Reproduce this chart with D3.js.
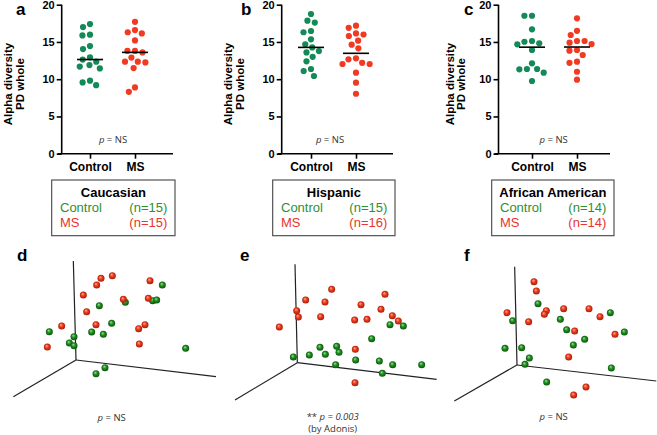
<!DOCTYPE html>
<html><head><meta charset="utf-8">
<script src="https://cdn.jsdelivr.net/npm/d3@7"></script>
<style>body{margin:0;background:#fff}svg{display:block}</style>
</head><body>
<svg id="c" width="657" height="435"></svg>
<script>
// ---------- DATA ----------
const groups = ["Control", "MS"];
const populations = ["Caucasian", "Hispanic", "African American"];
const panelLetters = ["a", "b", "c"];
const pcoaLetters = ["d", "e", "f"];
const yTicks = [0, 5, 10, 15, 20];
const nControl = [15, 15, 14];
const nMS = [15, 16, 14];
const pLabels = ["NS", "NS", "NS"];

// Alpha diversity (PD whole)
const caucControl = [17.4, 17.0, 15.97, 15.88, 14.45, 14.05, 12.93, 12.64, 12.35, 11.9, 11.7, 11.45, 9.8, 9.57, 9.2];
const caucMS      = [17.7, 16.6, 16.3, 16.15, 15.2, 13.8, 13.8, 13.6, 12.9, 12.35, 12.35, 12.25, 11.5, 8.9, 8.3];
const hispControl = [18.75, 17.85, 17.6, 16.47, 16.3, 15.35, 14.68, 14.27, 13.78, 13.6, 13.0, 12.4, 11.37, 11.1, 10.43];
const hispMS      = [17.18, 16.9, 16.15, 16.0, 15.8, 15.17, 14.63, 14.15, 12.8, 12.67, 12.2, 12.04, 12.04, 10.87, 9.53, 8.05];
const afamControl = [18.52, 18.52, 16.7, 15.13, 15.03, 14.82, 14.68, 13.92, 12.13, 11.37, 11.37, 11.33, 10.87, 9.76];
const afamMS      = [18.17, 16.5, 15.93, 15.13, 15.13, 14.9, 14.72, 13.92, 13.83, 13.25, 12.35, 12.2, 11.0, 9.93];

// PCoA projected coordinates (view units 0-660 x 0-540)
const axesD = {top: [220, 18], origin: [228, 315], right: [648, 365], left: [40, 425]};
const axesE = {top: [225, 28], origin: [232, 323], right: [650, 373], left: [45, 435]};
const axesF = {top: [233, 35], origin: [240, 330], right: [658, 378], left: [52, 438]};
const caucPcoaControl = [[487,90],[298,152],[376,142],[458,137],[470,135],[148,230],[335,205],[275,231],[310,238],[222,245],[208,264],[222,272],[557,280],[315,338],[288,356]];
const caucPcoaMS = [[337,62],[303,70],[290,90],[450,77],[250,120],[370,133],[445,130],[260,170],[185,213],[288,209],[435,209],[416,221],[142,276],[418,267]];
const hispPcoaControl = [[510,209],[550,213],[455,251],[300,277],[350,274],[268,300],[316,298],[357,292],[220,306],[347,329],[407,315],[478,318],[518,329],[605,329],[487,355]];
const hispPcoaMS = [[335,103],[257,135],[315,141],[230,167],[235,186],[302,185],[178,216],[495,118],[423,149],[483,163],[517,182],[535,198],[404,195],[441,193],[406,283],[405,383]];
const afamPcoaControl = [[303,146],[227,197],[370,193],[389,224],[520,173],[562,231],[443,253],[409,270],[204,280],[254,278],[277,309],[264,328],[523,339],[329,381]];
const afamPcoaMS = [[291,80],[298,108],[210,173],[328,167],[322,178],[275,200],[380,161],[456,161],[489,185],[413,228],[534,238],[395,306],[447,396],[410,420]];

// ---------- LAYOUT ----------
const svg = d3.select("#c");
const FONT = "'Liberation Sans', Arial, sans-serif";
const green = "#138a57", red = "#f03a22";
const legGreen = "#2f8f2f", legRed = "#e8352b";

const dotPanels = [
  {ax: 61.7, c0: 90, c1: 135, xEnd: 173, labX: 12, letterX: 16, pX: 113, data: [caucControl, caucMS], box: [51.7, 175]},
  {ax: 281.7, c0: 311, c1: 356, xEnd: 393, labX: 232, letterX: 241, pX: 330, data: [hispControl, hispMS], box: [272.7, 395]},
  {ax: 498.5, c0: 532, c1: 577, xEnd: 610, labX: 453.5, letterX: 464, pX: 553.7, data: [afamControl, afamMS], box: [491.7, 614]}
];
const y = d3.scaleLinear().domain([0, 20]).range([153.7, 4.7]);

function swarm(values, D) {
  const pts = values.map(v => ({v, y: y(v)})).sort((a, b) => a.y - b.y);
  const placed = [];
  pts.forEach(p => {
    const ints = placed.filter(q => Math.abs(q.y - p.y) < D).map(q => {
      const dx = Math.sqrt(D * D - (q.y - p.y) ** 2);
      return [q.x - dx, q.x + dx];
    });
    const cands = [0];
    ints.forEach(i => cands.push(i[0], i[1]));
    cands.sort((a, b) => Math.abs(a) - Math.abs(b) || a - b);
    p.x = cands.find(c => ints.every(i => c <= i[0] + 1e-6 || c >= i[1] - 1e-6));
    placed.push(p);
  });
  return pts;
}

dotPanels.forEach((P, i) => {
  const g = svg.append("g");
  const x = d3.scalePoint().domain(groups).range([P.c0, P.c1]);
  // y axis
  const yAx = g.append("g").attr("transform", `translate(${P.ax},0)`)
    .call(d3.axisLeft(y).tickValues(yTicks).tickSize(5).tickPadding(2));
  yAx.select(".domain").attr("d", `M0,${y(20)}V${y(0)}`);
  // x axis
  const xAx = g.append("g").attr("transform", `translate(0,${y(0)})`)
    .call(d3.axisBottom(x).tickSize(5).tickPadding(4));
  xAx.select(".domain").attr("d", `M${P.ax - 4},0H${P.xEnd}`);
  [yAx, xAx].forEach(a => {
    a.selectAll("path,line").attr("stroke", "#000").attr("stroke-width", 1.6);
    a.selectAll("text").attr("font-family", FONT).attr("font-weight", "bold").attr("fill", "#000");
  });
  yAx.selectAll("text").attr("font-size", 11);
  xAx.selectAll("text").attr("font-size", 12);

  // y label
  const yl = g.append("text").attr("transform", `translate(${P.labX},84) rotate(-90)`)
    .attr("text-anchor", "middle").attr("font-family", FONT).attr("font-weight", "bold").attr("font-size", 11.5);
  yl.append("tspan").attr("x", 0).attr("y", 0).text("Alpha diversity");
  yl.append("tspan").attr("x", 0).attr("y", 11.5).text("PD whole");

  // letter
  g.append("text").attr("x", P.letterX).attr("y", 15).attr("font-family", FONT)
    .attr("font-weight", "bold").attr("font-size", 17).text(panelLetters[i]);

  // dots + medians
  groups.forEach((grp, k) => {
    const vals = P.data[k];
    const pts = swarm(vals, 7.6);
    g.selectAll(null).data(pts).join("circle")
      .attr("cx", d => x(grp) + d.x).attr("cy", d => d.y).attr("r", 3.1)
      .attr("fill", k === 0 ? green : red);
    const med = d3.median(vals);
    g.append("line").attr("x1", x(grp) - 13).attr("x2", x(grp) + 13)
      .attr("y1", y(med)).attr("y2", y(med)).attr("stroke", "#000").attr("stroke-width", 1.6);
  });

  // p label
  const pt = g.append("text").attr("x", P.pX).attr("y", 143).attr("text-anchor", "middle")
    .attr("font-family", "'Open Sans', sans-serif").attr("font-size", 9.5).attr("fill", "#333");
  pt.append("tspan").attr("font-style", "italic").text("p");
  pt.append("tspan").text(" = " + pLabels[i]);

  // legend box
  const [bx0, bx1] = P.box;
  g.append("rect").attr("x", bx0).attr("y", 180).attr("width", bx1 - bx0).attr("height", 55.7)
    .attr("fill", "#fff").attr("stroke", "#444").attr("stroke-width", 1.1);
  g.append("text").attr("x", (bx0 + bx1) / 2).attr("y", 196.7).attr("text-anchor", "middle")
    .attr("font-family", FONT).attr("font-weight", "bold").attr("font-size", 13).text(populations[i]);
  const rows = [["Control", nControl[i], legGreen], ["MS", nMS[i], legRed]];
  rows.forEach((r, j) => {
    g.append("text").attr("x", bx0 + 8.3).attr("y", 212.3 + j * 15).attr("font-family", FONT)
      .attr("font-size", 13).attr("fill", r[2]).text(r[0]);
    g.append("text").attr("x", bx1 - 7.7).attr("y", 212.3 + j * 15).attr("text-anchor", "end")
      .attr("font-family", FONT).attr("font-size", 13).attr("fill", r[2]).text(`(n=${r[1]})`);
  });
});

// ---------- PCoA panels ----------
const defs = svg.append("defs");
function grad(id, c0, c1, c2) {
  const gr = defs.append("radialGradient").attr("id", id).attr("cx", "50%").attr("cy", "50%").attr("r", "55%")
    .attr("fx", "38%").attr("fy", "32%");
  gr.append("stop").attr("offset", "0%").attr("stop-color", c0);
  gr.append("stop").attr("offset", "45%").attr("stop-color", c1);
  gr.append("stop").attr("offset", "100%").attr("stop-color", c2);
}
grad("gGreen", "#9be39b", "#1f8f1f", "#0b4d0b");
grad("gRed", "#ffb090", "#ee3a1c", "#9c1a08");

const pcoaPanels = [
  {x0: 0, axes: axesD, ctrl: caucPcoaControl, ms: caucPcoaMS, letterX: 17},
  {x0: 220, axes: axesE, ctrl: hispPcoaControl, ms: hispPcoaMS, letterX: 240},
  {x0: 437, axes: axesF, ctrl: afamPcoaControl, ms: afamPcoaMS, letterX: 464}
];
pcoaPanels.forEach((P, i) => {
  const g = svg.append("g");
  const sx = d3.scaleLinear().domain([0, 660]).range([P.x0, P.x0 + 220]);
  const sy = d3.scaleLinear().domain([0, 540]).range([255, 435]);
  const o = P.axes.origin;
  ["top", "right", "left"].forEach(k => {
    g.append("line").attr("x1", sx(o[0])).attr("y1", sy(o[1]))
      .attr("x2", sx(P.axes[k][0])).attr("y2", sy(P.axes[k][1]))
      .attr("stroke", "#222").attr("stroke-width", 1.2);
  });
  const pts = P.ctrl.map(p => ({p, f: "url(#gGreen)"})).concat(P.ms.map(p => ({p, f: "url(#gRed)"})));
  g.selectAll(null).data(pts).join("circle")
    .attr("cx", d => sx(d.p[0])).attr("cy", d => sy(d.p[1])).attr("r", 3.5)
    .attr("fill", d => d.f);
  g.append("text").attr("x", P.letterX).attr("y", 261).attr("font-family", FONT)
    .attr("font-weight", "bold").attr("font-size", 17).text(pcoaLetters[i]);
});

// p-value labels for PCoA
function pText(x, yy, star, val) {
  const t = svg.append("text").attr("x", x).attr("y", yy).attr("text-anchor", "middle")
    .attr("font-family", "'Open Sans', sans-serif").attr("font-size", 9.5).attr("fill", "#333");
  if (star) t.append("tspan").text(star + " ");
  t.append("tspan").attr("font-style", "italic").text("p");
  t.append("tspan").attr("font-style", star ? "italic" : "normal").text(" = " + val);
}
pText(111.7, 420.5, "", "NS");
pText(332.7, 419.5, "**", "0.003");
svg.append("text").attr("x", 332.7).attr("y", 431.5).attr("text-anchor", "middle")
  .attr("font-family", "'Open Sans', sans-serif").attr("font-size", 9.5).attr("fill", "#333").text("(by Adonis)");
pText(553.7, 420, "", "NS");
</script>
</body></html>
